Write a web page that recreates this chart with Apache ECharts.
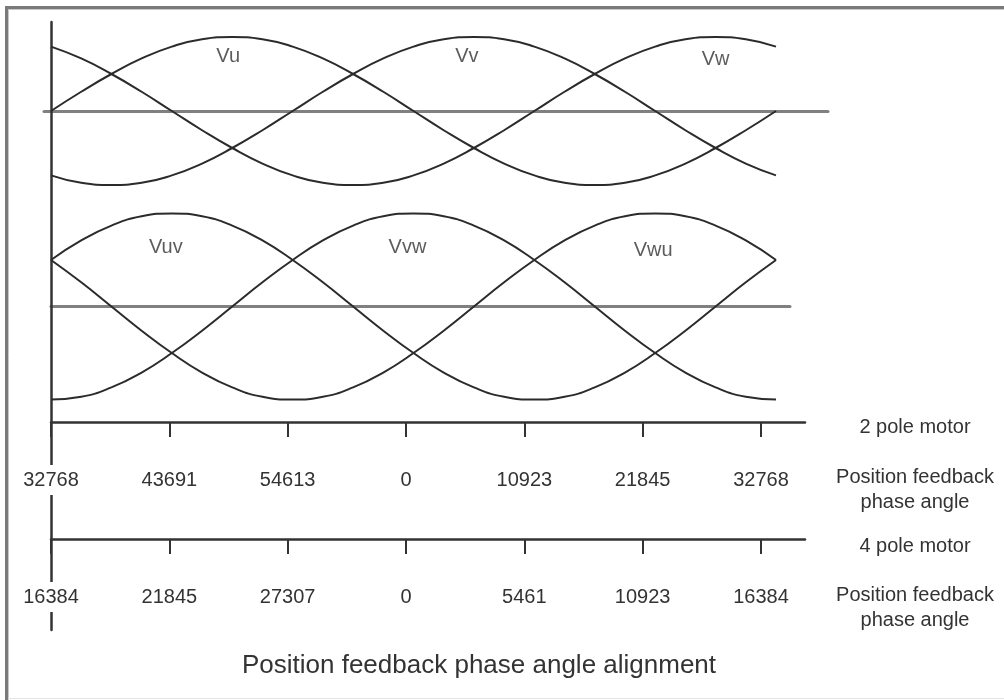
<!DOCTYPE html>
<html>
<head>
<meta charset="utf-8">
<script src="https://cdn.jsdelivr.net/npm/echarts@6/dist/echarts.min.js"></script>
<style>
  html, body { margin: 0; padding: 0; background: #fff; }
  #chart { width: 1004px; height: 700px; }
</style>
</head>
<body>
<div id="chart"></div>
<script>
// electrical angle, degrees (one full period across the plot)
const angles = [0, 15, 30, 45, 60, 75, 90, 105, 120, 135, 150, 165, 180,
  195, 210, 225, 240, 255, 270, 285, 300, 315, 330, 345, 360];

// phase voltages (normalised)
const vu = [0, 0.26, 0.5, 0.71, 0.87, 0.97, 1, 0.97, 0.87, 0.71, 0.5, 0.26, 0,
  -0.26, -0.5, -0.71, -0.87, -0.97, -1, -0.97, -0.87, -0.71, -0.5, -0.26, 0];
const vv = [-0.87, -0.97, -1, -0.97, -0.87, -0.71, -0.5, -0.26, 0, 0.26, 0.5, 0.71, 0.87,
  0.97, 1, 0.97, 0.87, 0.71, 0.5, 0.26, 0, -0.26, -0.5, -0.71, -0.87];
const vw = [0.87, 0.71, 0.5, 0.26, 0, -0.26, -0.5, -0.71, -0.87, -0.97, -1, -0.97, -0.87,
  -0.71, -0.5, -0.26, 0, 0.26, 0.5, 0.71, 0.87, 0.97, 1, 0.97, 0.87];

// line-to-line voltages (normalised)
const vuv = [0.5, 0.71, 0.87, 0.97, 1, 0.97, 0.87, 0.71, 0.5, 0.26, 0, -0.26, -0.5,
  -0.71, -0.87, -0.97, -1, -0.97, -0.87, -0.71, -0.5, -0.26, 0, 0.26, 0.5];
const vvw = [-1, -0.97, -0.87, -0.71, -0.5, -0.26, 0, 0.26, 0.5, 0.71, 0.87, 0.97, 1,
  0.97, 0.87, 0.71, 0.5, 0.26, 0, -0.26, -0.5, -0.71, -0.87, -0.97, -1];
const vwu = [0.5, 0.26, 0, -0.26, -0.5, -0.71, -0.87, -0.97, -1, -0.97, -0.87, -0.71, -0.5,
  -0.26, 0, 0.26, 0.5, 0.71, 0.87, 0.97, 1, 0.97, 0.87, 0.71, 0.5];

const phaseNames = ["Vu", "Vv", "Vw"];
const phaseLabelAt = [[88, 0.73], [206.5, 0.73], [330, 0.69]];
const lineNames = ["Vuv", "Vvw", "Vwu"];
const lineLabelAt = [[57, 0.63], [177, 0.63], [299, 0.6]];

// position feedback tick labels
const ticks = [0, 1, 2, 3, 4, 5, 6];
const pole2Labels = ["32768", "43691", "54613", "0", "10923", "21845", "32768"];
const pole4Labels = ["16384", "21845", "27307", "0", "5461", "10923", "16384"];

const FONT = "'Liberation Sans', Arial, sans-serif";
const INK = "#2b2b2b";

function pairs(ys) {
  return angles.map((a, i) => [a, ys[i]]);
}

function curve(name, ys, idx) {
  return {
    name: name,
    type: "line",
    xAxisIndex: idx,
    yAxisIndex: idx,
    data: pairs(ys),
    smooth: true,
    symbol: "none",
    silent: true,
    lineStyle: { color: INK, width: 2 },
  };
}

function curveLabels(names, at, idx) {
  return {
    type: "scatter",
    xAxisIndex: idx,
    yAxisIndex: idx,
    symbolSize: 0,
    silent: true,
    data: names.map((n, i) => ({ name: n, value: at[i] })),
    label: {
      show: true,
      position: "inside",
      formatter: "{b}",
      color: "#333",
      fontFamily: FONT,
      fontSize: 20,
    },
  };
}

function hiddenY(min, max) {
  return { type: "value", min: min, max: max, show: false };
}

function poleAxis(gridIndex, labels) {
  return {
    type: "value",
    gridIndex: gridIndex,
    position: "bottom",
    min: 0,
    max: 6.372,
    z: 3,
    axisLine: { onZero: false, lineStyle: { color: "#333", width: 2.5 } },
    axisTick: {
      show: true,
      customValues: ticks,
      length: 15,
      lineStyle: { color: "#333", width: 2 },
    },
    axisLabel: {
      customValues: ticks,
      formatter: (v) => labels[Math.round(v)],
      margin: 43,
      color: "#333",
      fontFamily: FONT,
      fontSize: 20,
      lineHeight: 22,
      backgroundColor: "#fff",
      padding: [4, 3],
    },
    splitLine: { show: false },
  };
}

function text(str, x, y, size, lh) {
  return {
    type: "text",
    x: x,
    y: y,
    silent: true,
    style: {
      text: str,
      fill: "#333",
      fontFamily: FONT,
      fontSize: size,
      lineHeight: lh || size + 4,
      align: "center",
      textAlign: "center",
      verticalAlign: "middle",
      textVerticalAlign: "middle",
    },
  };
}

const chart = echarts.init(document.getElementById("chart"), null, { renderer: "canvas" });

chart.setOption({
  backgroundColor: "#fff",
  animation: false,
  grid: [
    { left: 44, top: 37, width: 784, height: 148 }, // phase voltages
    { left: 51, top: 213, width: 739, height: 187 }, // line voltages
    { left: 51, top: 400, width: 754, height: 22 }, // 2 pole scale
    { left: 51, top: 517, width: 754, height: 22 }, // 4 pole scale
    { left: 51, top: 22, width: 10, height: 608 }, // vertical reference line
  ],
  xAxis: [
    {
      type: "value",
      gridIndex: 0,
      min: -3.476,
      max: 385.82,
      axisLine: { onZero: true, lineStyle: { color: "#808080", width: 3 } },
      axisTick: { show: false },
      axisLabel: { show: false },
      splitLine: { show: false },
    },
    {
      type: "value",
      gridIndex: 1,
      min: 0,
      max: 366.95,
      axisLine: { onZero: true, lineStyle: { color: "#808080", width: 3 } },
      axisTick: { show: false },
      axisLabel: { show: false },
      splitLine: { show: false },
    },
    poleAxis(2, pole2Labels),
    poleAxis(3, pole4Labels),
    { type: "value", gridIndex: 4, min: 0, max: 1, show: false },
  ],
  yAxis: [
    Object.assign(hiddenY(-1, 1), { gridIndex: 0 }),
    Object.assign(hiddenY(-1.005, 1.005), { gridIndex: 1 }),
    Object.assign(hiddenY(0, 1), { gridIndex: 2 }),
    Object.assign(hiddenY(0, 1), { gridIndex: 3 }),
    {
      type: "value",
      gridIndex: 4,
      min: 0,
      max: 1,
      z: 1,
      axisLine: { show: true, onZero: false, lineStyle: { color: "#333", width: 2.5 } },
      axisTick: { show: false },
      axisLabel: { show: false },
      splitLine: { show: false },
    },
  ],
  series: [
    curve("Vu", vu, 0),
    curve("Vv", vv, 0),
    curve("Vw", vw, 0),
    curveLabels(phaseNames, phaseLabelAt, 0),
    curve("Vuv", vuv, 1),
    curve("Vvw", vvw, 1),
    curve("Vwu", vwu, 1),
    curveLabels(lineNames, lineLabelAt, 1),
  ],
  graphic: [
    // picture frame
    { type: "line", silent: true, shape: { x1: 5, y1: 7.5, x2: 1004, y2: 7.5 }, style: { stroke: "#7a7a7a", lineWidth: 3 } },
    { type: "line", silent: true, shape: { x1: 6.5, y1: 6, x2: 6.5, y2: 700 }, style: { stroke: "#7a7a7a", lineWidth: 3 } },
    { type: "line", silent: true, shape: { x1: 8, y1: 9.5, x2: 1004, y2: 9.5 }, style: { stroke: "#c8c8c8", lineWidth: 1 } },
    { type: "line", silent: true, shape: { x1: 8.5, y1: 9, x2: 8.5, y2: 700 }, style: { stroke: "#c8c8c8", lineWidth: 1 } },
    { type: "line", silent: true, shape: { x1: 8, y1: 698.5, x2: 1004, y2: 698.5 }, style: { stroke: "#e4e4e4", lineWidth: 1 } },
    text("2 pole motor", 915, 427, 20),
    text("Position feedback\nphase angle", 915, 489.5, 20, 25),
    text("4 pole motor", 915, 546, 20),
    text("Position feedback\nphase angle", 915, 607.5, 20, 25),
    text("Position feedback phase angle alignment", 479, 666, 26),
  ],
});
</script>
</body>
</html>
